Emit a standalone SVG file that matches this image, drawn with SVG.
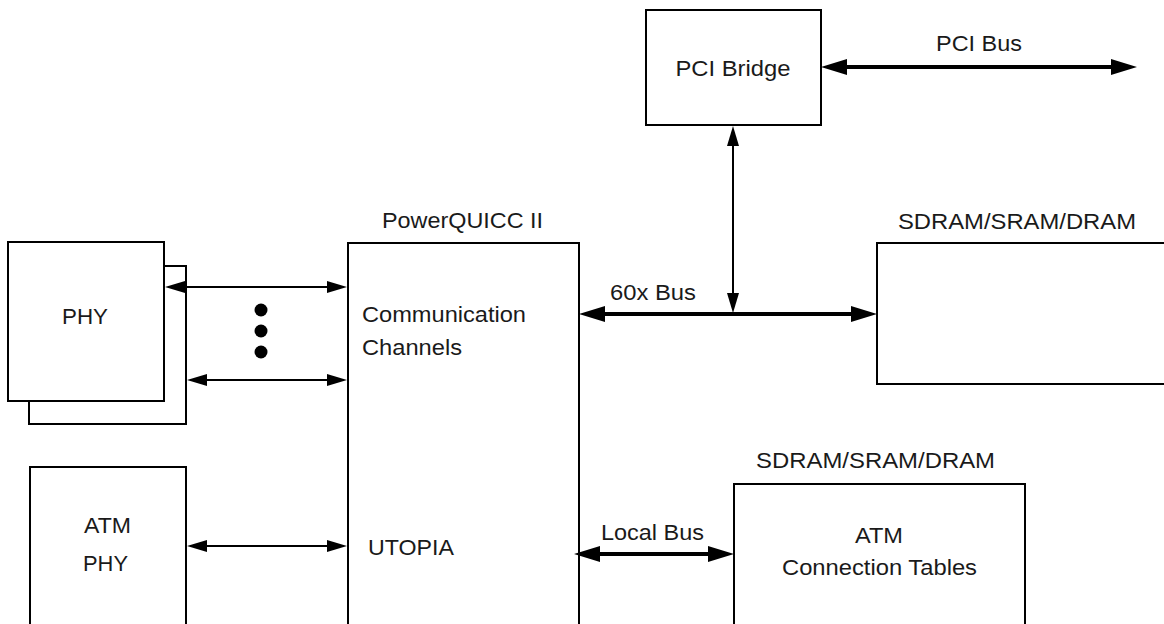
<svg xmlns="http://www.w3.org/2000/svg" width="1164" height="624" viewBox="0 0 1164 624">
<style>
.box{fill:#fff;stroke:#000;stroke-width:2}
.edge{fill:none;stroke:#000;stroke-width:2}
.t{font-family:"Liberation Sans",Arial,sans-serif;font-size:22px;fill:#1a1a1a}
.m{text-anchor:middle}
.thin{fill:none;stroke:#000;stroke-width:2;marker-start:url(#ah);marker-end:url(#ah)}
.thick{fill:none;stroke:#000;stroke-width:4;marker-start:url(#AH);marker-end:url(#AH)}
</style>
<defs>
<marker id="ah" markerUnits="userSpaceOnUse" markerWidth="22" markerHeight="14" refX="16" refY="6" orient="auto-start-reverse" overflow="visible">
<path d="M0,0 L20,6 L0,12 Z" fill="#000"/>
</marker>
<marker id="AH" markerUnits="userSpaceOnUse" markerWidth="28" markerHeight="18" refX="18" refY="8" orient="auto-start-reverse" overflow="visible">
<path d="M0,0 L26,8 L0,16 Z" fill="#000"/>
</marker>
</defs>
<rect width="1164" height="624" fill="#fff"/>

<g id="phy">
<path class="edge" d="M164,266 H186 V424 H29 V401"/>
<rect class="box" x="8" y="242" width="156" height="159"/>
<text class="t m" x="85" y="324" textLength="46" lengthAdjust="spacingAndGlyphs">PHY</text>
</g>

<g id="dots">
<circle cx="261" cy="310" r="6.5"/>
<circle cx="261" cy="331" r="6.5"/>
<circle cx="261" cy="352" r="6.5"/>
</g>

<g id="atm-phy">
<path class="edge" d="M30,624 V467 H187 M186,467 V624"/>
<text class="t m" x="107.5" y="533" textLength="47" lengthAdjust="spacingAndGlyphs">ATM</text>
<text class="t m" x="105.5" y="571" textLength="45" lengthAdjust="spacingAndGlyphs">PHY</text>
</g>

<g id="powerquicc">
<path class="edge" d="M348,626 V243 H579 V626"/>
<text class="t m" x="462.5" y="228" textLength="161" lengthAdjust="spacingAndGlyphs">PowerQUICC II</text>
<text class="t" x="362" y="322" textLength="164" lengthAdjust="spacingAndGlyphs">Communication</text>
<text class="t" x="362" y="355" textLength="100" lengthAdjust="spacingAndGlyphs">Channels</text>
<text class="t" x="368" y="555" textLength="86" lengthAdjust="spacingAndGlyphs">UTOPIA</text>
</g>

<g id="pci-bridge">
<rect class="box" x="646" y="10" width="175" height="115"/>
<text class="t m" x="733" y="76" textLength="115" lengthAdjust="spacingAndGlyphs">PCI Bridge</text>
</g>

<g id="sdram-60x">
<path class="edge" d="M1166,243 H877 V384 H1166"/>
<text class="t m" x="1017" y="229" textLength="238" lengthAdjust="spacingAndGlyphs">SDRAM/SRAM/DRAM</text>
</g>

<g id="sdram-local">
<path class="edge" d="M734,626 V484 H1025 V626"/>
<text class="t m" x="875.5" y="468" textLength="239" lengthAdjust="spacingAndGlyphs">SDRAM/SRAM/DRAM</text>
<text class="t m" x="879" y="543" textLength="48" lengthAdjust="spacingAndGlyphs">ATM</text>
<text class="t m" x="879.5" y="575" textLength="195" lengthAdjust="spacingAndGlyphs">Connection Tables</text>
</g>

<g id="connectors">
<line class="thin" x1="169" y1="287" x2="343" y2="287"/>
<line class="thin" x1="191" y1="380" x2="343" y2="380"/>
<line class="thin" x1="191" y1="546" x2="343" y2="546"/>
<line class="thin" x1="733" y1="130" x2="733" y2="309"/>
<line class="thick" x1="587" y1="314" x2="869" y2="314"/>
<line class="thick" x1="829" y1="67" x2="1129" y2="67"/>
<line class="thick" x1="582" y1="554" x2="726" y2="554"/>
<text class="t" x="610" y="300" textLength="86" lengthAdjust="spacingAndGlyphs">60x Bus</text>
<text class="t m" x="979" y="51" textLength="86" lengthAdjust="spacingAndGlyphs">PCI Bus</text>
<text class="t m" x="652.5" y="540" textLength="103" lengthAdjust="spacingAndGlyphs">Local Bus</text>
</g>
</svg>
